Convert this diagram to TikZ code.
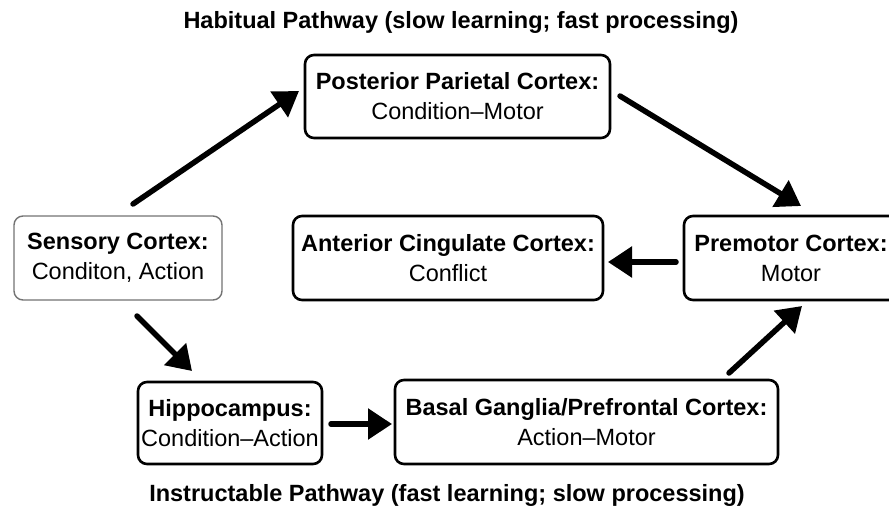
\documentclass[tikz,border=0pt]{standalone}
\usepackage{fontspec}
\setmainfont{Liberation Sans}
\usetikzlibrary{arrows.meta}
\begin{document}
\begin{tikzpicture}[x=1pt,y=-1pt,
  box/.style={draw=black,line width=2.6pt,rounded corners=9pt,fill=white,align=center,font=\fontsize{23.5}{30}\selectfont,inner sep=0pt},
  lightbox/.style={box,draw=black!55,line width=1.4pt},
  conn/.style={line width=5.5pt,line cap=round,-{Triangle[length=24pt,width=30pt]}},
  ttl/.style={font=\bfseries\fontsize{23.5}{26}\selectfont}]
\useasboundingbox (0,0) rectangle (889,515);
\clip (0,0) rectangle (889,515);
\node[ttl] (top) at (461,22) {Habitual Pathway (slow learning; fast processing)};
\node[ttl] (bot) at (447,495) {Instructable Pathway (fast learning; slow processing)};
\node[box,minimum width=305pt,minimum height=83pt] (ppc) at (457.5,96.5) {\textbf{Posterior Parietal Cortex:}\\Condition–Motor};
\node[lightbox,minimum width=208pt,minimum height=84pt] (sen) at (118,258) {\textbf{Sensory Cortex:}\\Conditon, Action};
\node[box,minimum width=310pt,minimum height=84pt] (acc) at (448,258) {\textbf{Anterior Cingulate Cortex:}\\Conflict};
\node[box,minimum width=214pt,minimum height=84pt] (pmc) at (791,258) {\textbf{Premotor Cortex:}\\Motor};
\node[box,minimum width=184pt,minimum height=82pt] (hip) at (230,423) {\textbf{Hippocampus:}\\Condition–Action};
\node[box,minimum width=383pt,minimum height=84pt] (bg) at (586.5,422) {\textbf{Basal Ganglia/Prefrontal Cortex:}\\Action–Motor};
\coordinate (a1) at (133,204); \coordinate (a2) at (299,91);
\coordinate (b1) at (620,96); \coordinate (b2) at (801,206);
\coordinate (c1) at (676,262); \coordinate (c2) at (608,262);
\coordinate (d1) at (137,316); \coordinate (d2) at (192,371);
\coordinate (e1) at (331,424); \coordinate (e2) at (392,424);
\coordinate (f1) at (729,373); \coordinate (f2) at (802,306);
\draw[conn] (a1) -- (a2);
\draw[conn] (b1) -- (b2);
\draw[conn] (c1) -- (c2);
\draw[conn] (d1) -- (d2);
\draw[conn] (e1) -- (e2);
\draw[conn] (f1) -- (f2);
\end{tikzpicture}
\end{document}
